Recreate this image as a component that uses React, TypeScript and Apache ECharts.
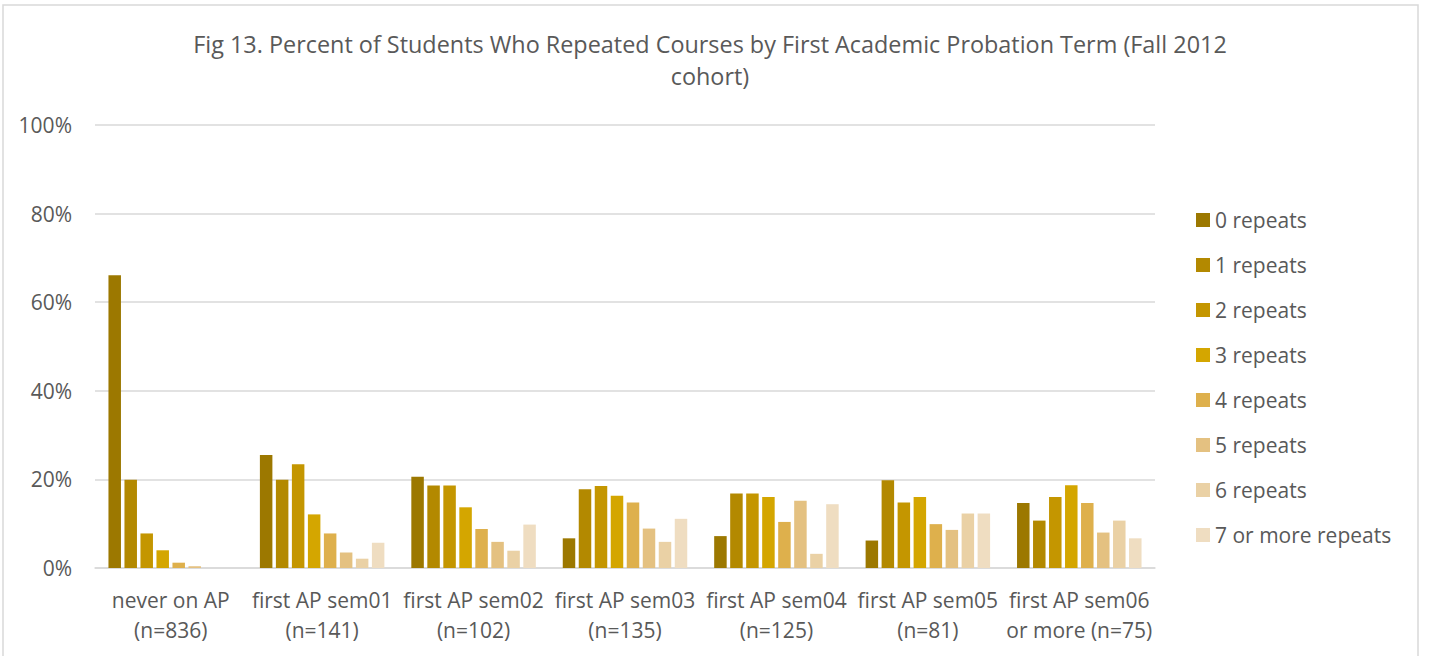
import React, { useEffect, useRef } from "react";
import * as echarts from "echarts";

const titleLines = [
  "Fig 13. Percent of Students Who Repeated Courses by First Academic Probation Term (Fall 2012",
  "cohort)",
];

const categories = [
  "never on AP\n(n=836)",
  "first AP sem01\n(n=141)",
  "first AP sem02\n(n=102)",
  "first AP sem03\n(n=135)",
  "first AP sem04\n(n=125)",
  "first AP sem05\n(n=81)",
  "first AP sem06\nor more (n=75)",
];

const seriesNames = [
  "0 repeats",
  "1 repeats",
  "2 repeats",
  "3 repeats",
  "4 repeats",
  "5 repeats",
  "6 repeats",
  "7 or more repeats",
];

const rep0 = [66.1, 25.5, 20.6, 6.7, 7.2, 6.2, 14.7];
const rep1 = [19.9, 19.9, 18.6, 17.8, 16.8, 19.8, 10.7];
const rep2 = [7.8, 23.4, 18.6, 18.5, 16.8, 14.8, 16.0];
const rep3 = [4.0, 12.1, 13.7, 16.3, 16.0, 16.0, 18.7];
const rep4 = [1.2, 7.8, 8.8, 14.8, 10.4, 9.9, 14.7];
const rep5 = [0.4, 3.5, 5.9, 8.9, 15.2, 8.6, 8.0];
const rep6 = [0, 2.1, 3.9, 5.9, 3.2, 12.3, 10.7];
const rep7 = [0, 5.7, 9.8, 11.1, 14.4, 12.3, 6.7];

const seriesValues = [rep0, rep1, rep2, rep3, rep4, rep5, rep6, rep7];

const colors = [
  "#9C7800",
  "#B38900",
  "#C49600",
  "#D4A600",
  "#DEB04C",
  "#E4C181",
  "#EAD1A5",
  "#EFDDC1",
];

const yTicks = [0, 20, 40, 60, 80, 100];

const FONT = "Open Sans";
const TEXT = "#595959";

export default function App() {
  const ref = useRef<HTMLDivElement>(null);

  useEffect(() => {
    if (!ref.current) return;
    const chart = echarts.init(ref.current, null, { renderer: "svg" });
    chart.setOption({
      animation: false,
      color: colors,
      textStyle: { fontFamily: FONT },
      grid: { left: 95, right: 282, top: 125, bottom: 88, containLabel: false },
      graphic: [
        {
          type: "rect",
          silent: true,
          shape: { x: 3, y: 5, width: 1415, height: 700 },
          style: { fill: "none", stroke: "#D9D9D9", lineWidth: 1.5 },
        },
        ...titleLines.map((t, i) => ({
          type: "text",
          x: 710,
          y: 44 + i * 32,
          style: {
            text: t,
            fill: TEXT,
            font: `23.4px '${FONT}'`,
            textAlign: "center",
            textVerticalAlign: "middle",
          },
        })),
      ],
      legend: {
        orient: "vertical",
        left: 1191,
        top: 204,
        itemWidth: 14,
        itemHeight: 14,
        itemGap: 23,
        icon: "rect",
        data: seriesNames,
        textStyle: { color: TEXT, fontSize: 21, fontFamily: FONT, lineHeight: 22 },
      },
      xAxis: {
        type: "category",
        data: categories,
        axisLine: { show: true, lineStyle: { color: "#D9D9D9", width: 1.5 } },
        axisTick: { show: false },
        axisLabel: {
          interval: 0,
          color: TEXT,
          fontSize: 21,
          fontFamily: FONT,
          lineHeight: 30,
          margin: 17,
        },
      },
      yAxis: {
        type: "value",
        min: yTicks[0],
        max: yTicks[yTicks.length - 1],
        interval: 20,
        axisLine: { show: false },
        axisTick: { show: false },
        splitLine: { lineStyle: { color: "#D9D9D9", width: 1.5 } },
        axisLabel: {
          formatter: "{value}%",
          color: TEXT,
          fontSize: 21,
          fontFamily: FONT,
          margin: 23,
        },
      },
      series: seriesNames.map((name, i) => ({
        name,
        type: "bar",
        data: seriesValues[i],
        barWidth: 12.5,
        barGap: "28%",
        itemStyle: { color: colors[i] },
      })),
    });
    return () => chart.dispose();
  }, []);

  return (
    <div
      ref={ref}
      style={{ position: "fixed", left: 0, top: 0, width: 1437, height: 656, background: "#fff" }}
    />
  );
}
